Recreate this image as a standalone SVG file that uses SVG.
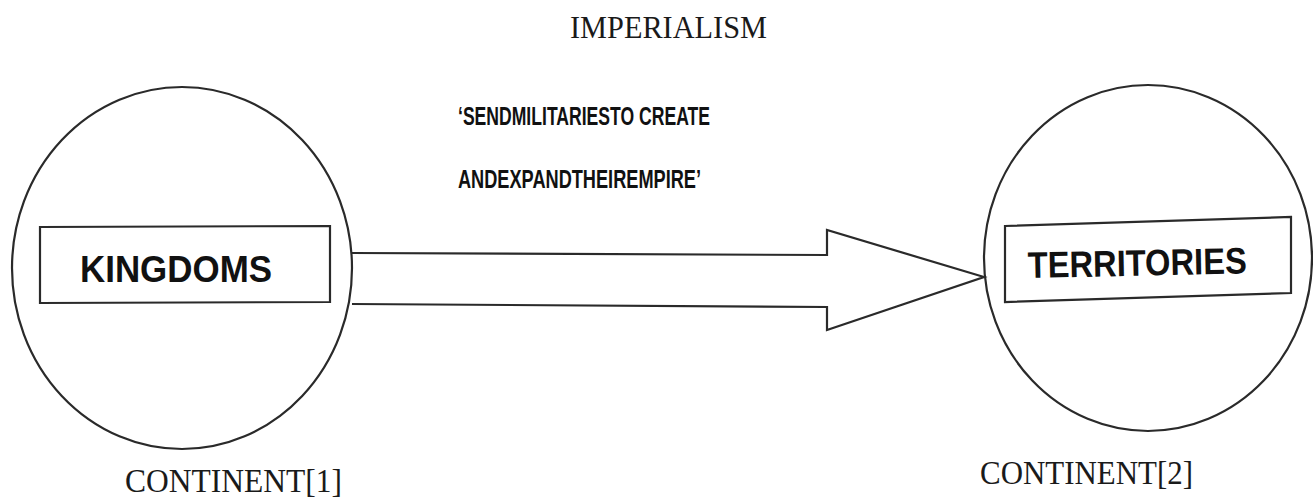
<svg xmlns="http://www.w3.org/2000/svg" width="1313" height="497" viewBox="0 0 1313 497">
<style>
.shape{fill:none;stroke:#2a2a2a;stroke-width:2.2}
.box{fill:#fff;stroke:#2a2a2a;stroke-width:2.2}
.serif{font-family:"Liberation Serif","Times New Roman",serif;fill:#1a1a1a}
.bold{font-family:"Liberation Sans",Arial,sans-serif;font-weight:bold;fill:#111}
</style>
<rect width="1313" height="497" fill="#fff"/>
<text class="serif" x="570" y="38" font-size="32" textLength="197" lengthAdjust="spacingAndGlyphs">IMPERIALISM</text>
<g id="label">
<text class="bold" x="458" y="125" font-size="26" textLength="252" lengthAdjust="spacingAndGlyphs">‘SENDMILITARIESTO CREATE</text>
<text class="bold" x="458" y="188" font-size="26" textLength="243" lengthAdjust="spacingAndGlyphs">ANDEXPANDTHEIREMPIRE’</text>
</g>
<g id="kingdoms">
<ellipse class="shape" cx="182" cy="268" rx="170" ry="181"/>
<path class="box" d="M40 227 L330 226 L330 302 L40 303 Z"/>
<text class="bold" x="80" y="282" font-size="37" textLength="192" lengthAdjust="spacingAndGlyphs">KINGDOMS</text>
<text class="serif" x="125" y="492" font-size="34" textLength="217" lengthAdjust="spacingAndGlyphs">CONTINENT[1]</text>
</g>
<g id="territories">
<ellipse class="shape" cx="1148" cy="258" rx="164" ry="173"/>
<path class="box" d="M1005 226 L1291 217 L1291 293 L1005 302 Z"/>
<text class="bold" x="1028" y="278" font-size="37" textLength="219" lengthAdjust="spacingAndGlyphs" transform="rotate(-1.2 1028 278)">TERRITORIES</text>
<text class="serif" x="980" y="484" font-size="34" textLength="213" lengthAdjust="spacingAndGlyphs">CONTINENT[2]</text>
</g>
<g id="connectors">
<path class="shape" d="M352 253 L827 255 L827 230 L984 277 L827 330 L827 307 L352 304" fill="#fff"/>
</g>
</svg>
